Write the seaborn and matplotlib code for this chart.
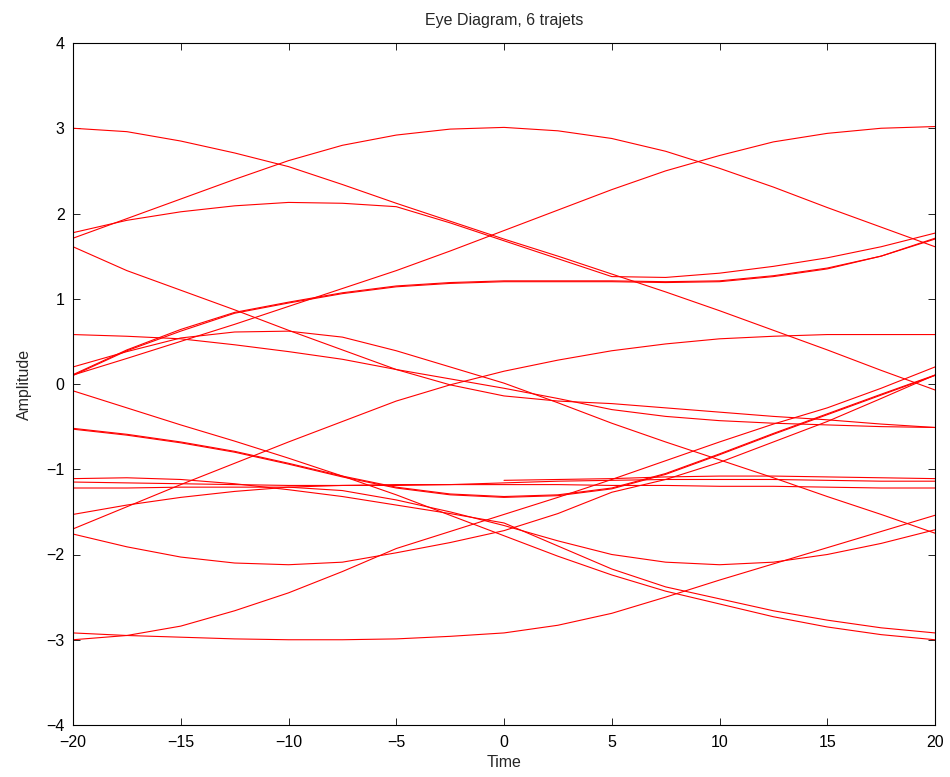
import numpy as np
import pandas as pd
import matplotlib
matplotlib.use("Agg")
import matplotlib.pyplot as plt
import seaborn as sns

t = [-20, -17.5, -15, -12.5, -10, -7.5, -5, -2.5, 0, 2.5, 5, 7.5, 10, 12.5, 15, 17.5, 20]
t_late = [0, 2.5, 5, 7.5, 10, 12.5, 15, 17.5, 20]

# traces (amplitude at each instant of t)
T  = [1.71, 1.94, 2.17, 2.40, 2.62, 2.80, 2.92, 2.99, 3.01, 2.97, 2.88, 2.73, 2.53, 2.31, 2.07, 1.84, 1.61]
D1 = [3.00, 2.96, 2.85, 2.71, 2.55, 2.34, 2.12, 1.91, 1.70, 1.50, 1.29, 1.08, 0.86, 0.63, 0.40, 0.16, -0.07]
R  = [0.105, 0.30, 0.50, 0.70, 0.91, 1.12, 1.33, 1.56, 1.80, 2.04, 2.28, 2.50, 2.68, 2.84, 2.94, 3.00, 3.02]
A2 = [1.775, 1.92, 2.02, 2.09, 2.13, 2.12, 2.08, 1.89, 1.68, 1.47, 1.26, 1.25, 1.30, 1.38, 1.48, 1.61, 1.77]
B1 = [0.11, 0.40, 0.64, 0.84, 0.96, 1.07, 1.15, 1.19, 1.21, 1.21, 1.21, 1.20, 1.21, 1.27, 1.36, 1.50, 1.70]
B2 = [0.10, 0.39, 0.62, 0.83, 0.95, 1.06, 1.14, 1.18, 1.20, 1.20, 1.20, 1.19, 1.20, 1.26, 1.35, 1.50, 1.71]
P  = [0.20, 0.38, 0.54, 0.61, 0.62, 0.55, 0.39, 0.20, 0.01, -0.22, -0.46, -0.68, -0.89, -1.10, -1.32, -1.53, -1.75]
L4 = [1.61, 1.33, 1.10, 0.87, 0.63, 0.40, 0.17, -0.01, -0.14, -0.20, -0.23, -0.28, -0.33, -0.38, -0.42, -0.47, -0.51]
L5 = [0.58, 0.56, 0.53, 0.46, 0.38, 0.29, 0.17, 0.06, -0.05, -0.17, -0.30, -0.38, -0.43, -0.46, -0.48, -0.50, -0.51]
RL = [-1.70, -1.44, -1.18, -0.93, -0.68, -0.44, -0.20, -0.01, 0.15, 0.28, 0.39, 0.47, 0.53, 0.56, 0.58, 0.58, 0.58]
La = [-0.08, -0.28, -0.48, -0.67, -0.87, -1.08, -1.30, -1.54, -1.78, -2.02, -2.24, -2.43, -2.58, -2.73, -2.85, -2.94, -3.00]
M1 = [-0.52, -0.59, -0.68, -0.79, -0.93, -1.08, -1.21, -1.29, -1.32, -1.30, -1.22, -1.05, -0.82, -0.58, -0.35, -0.12, 0.105]
M2 = [-0.53, -0.60, -0.69, -0.80, -0.94, -1.09, -1.22, -1.30, -1.33, -1.31, -1.23, -1.06, -0.83, -0.59, -0.36, -0.13, 0.10]
U1 = [-3.00, -2.95, -2.84, -2.66, -2.45, -2.20, -1.93, -1.73, -1.53, -1.33, -1.12, -0.90, -0.68, -0.47, -0.28, -0.05, 0.20]
U2 = [-1.76, -1.91, -2.03, -2.10, -2.12, -2.09, -1.98, -1.86, -1.72, -1.52, -1.27, -1.12, -0.92, -0.68, -0.44, -0.17, 0.105]
H  = [-1.11, -1.10, -1.12, -1.17, -1.24, -1.32, -1.42, -1.52, -1.63, -1.90, -2.17, -2.38, -2.52, -2.66, -2.77, -2.86, -2.92]
F1 = [-1.15, -1.16, -1.17, -1.18, -1.19, -1.19, -1.19, -1.18, -1.16, -1.14, -1.13, -1.12, -1.12, -1.12, -1.13, -1.14, -1.14]
Q  = [-1.53, -1.42, -1.33, -1.26, -1.21, -1.19, -1.18, -1.18, -1.18, -1.18, -1.19, -1.19, -1.20, -1.20, -1.21, -1.22, -1.22]
DA = [-1.22, -1.22, -1.21, -1.21, -1.21, -1.25, -1.36, -1.50, -1.66, -1.84, -2.00, -2.09, -2.12, -2.09, -2.00, -1.87, -1.71]
BF = [-2.92, -2.95, -2.97, -2.99, -3.00, -3.00, -2.99, -2.96, -2.92, -2.83, -2.69, -2.50, -2.30, -2.11, -1.92, -1.73, -1.54]
S  = [-1.13, -1.12, -1.11, -1.09, -1.08, -1.08, -1.09, -1.10, -1.11]

traces = {"T": T, "D1": D1, "R": R, "A2": A2, "B1": B1, "B2": B2, "P": P,
          "L4": L4, "L5": L5, "RL": RL, "La": La, "M1": M1, "M2": M2,
          "U1": U1, "U2": U2, "H": H, "F1": F1, "Q": Q, "DA": DA, "BF": BF}

rows = []
for name, vals in traces.items():
    for x, v in zip(t, vals):
        rows.append((name, x, v))
for x, v in zip(t_late, S):
    rows.append(("S", x, v))
df = pd.DataFrame(rows, columns=["trace", "Time", "Amplitude"])

sns.set_style("ticks")
plt.rcParams["font.family"] = ["Liberation Sans", "DejaVu Sans"]

fig = plt.figure(figsize=(9.5, 7.77), dpi=100)
ax = fig.add_axes([73/950, 1-725/777, (935-73)/950, (725-43)/777])
sns.lineplot(data=df, x="Time", y="Amplitude", units="trace", estimator=None,
             color="#ff0000", linewidth=0.8, ax=ax, legend=False, sort=False)

ax.set_xlim(-20, 20)
ax.set_ylim(-4, 4)
ax.set_xticks(range(-20, 21, 5))
ax.set_yticks(range(-4, 5, 1))
ax.tick_params(direction="in", top=True, right=True, length=5, width=0.6,
               labelsize=11.5, colors="black")
ax.tick_params(axis="x", pad=7)
ax.tick_params(axis="y", pad=6)
for s in ax.spines.values():
    s.set_visible(True)
    s.set_linewidth(0.8)
    s.set_color("black")
ax.set_title("Eye Diagram, 6 trajets", fontsize=11.5, pad=13)
ax.set_xlabel("Time", fontsize=11.5, labelpad=4)
ax.set_ylabel("Amplitude", fontsize=11.5, labelpad=10)

fig.savefig("out.png", dpi=100)
